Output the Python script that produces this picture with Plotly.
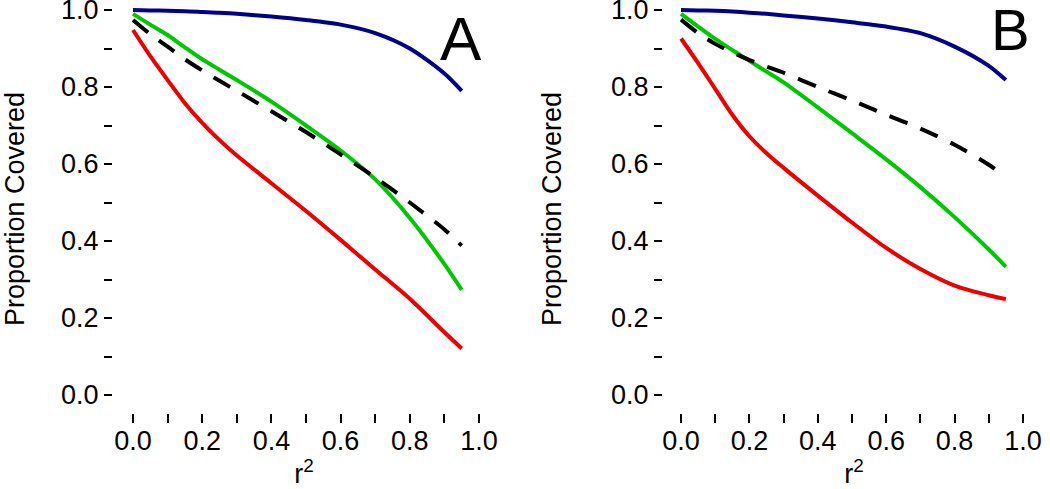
import plotly.graph_objects as go

# x values (r^2)
r2 = [0.0, 0.05, 0.1, 0.15, 0.2, 0.25, 0.3, 0.4, 0.5, 0.6, 0.7, 0.8, 0.9, 0.95]

# Panel A
a_blue  = [1.0, 0.999, 0.998, 0.997, 0.995, 0.993, 0.99, 0.983, 0.974, 0.962, 0.94, 0.90, 0.835, 0.79]
a_green = [0.99, 0.962, 0.935, 0.903, 0.872, 0.845, 0.818, 0.762, 0.70, 0.635, 0.56, 0.46, 0.34, 0.273]
a_black = [0.974, 0.937, 0.905, 0.872, 0.843, 0.816, 0.79, 0.737, 0.683, 0.625, 0.565, 0.50, 0.43, 0.388]
a_red   = [0.948, 0.88, 0.818, 0.758, 0.707, 0.662, 0.622, 0.55, 0.478, 0.403, 0.326, 0.25, 0.163, 0.121]

# Panel B
b_blue  = [1.0, 0.999, 0.998, 0.996, 0.993, 0.99, 0.986, 0.978, 0.968, 0.957, 0.94, 0.905, 0.855, 0.818]
b_green = [0.99, 0.957, 0.925, 0.896, 0.868, 0.84, 0.812, 0.747, 0.68, 0.612, 0.54, 0.462, 0.378, 0.333]
b_black = [0.975, 0.94, 0.912, 0.89, 0.87, 0.853, 0.837, 0.80, 0.765, 0.728, 0.692, 0.65, 0.598, 0.565]
b_red   = [0.926, 0.862, 0.795, 0.728, 0.672, 0.628, 0.59, 0.518, 0.448, 0.382, 0.327, 0.284, 0.259, 0.249]

tick_vals = [0.0, 0.1, 0.2, 0.3, 0.4, 0.5, 0.6, 0.7, 0.8, 0.9, 1.0]
tick_text = ["0.0", "", "0.2", "", "0.4", "", "0.6", "", "0.8", "", "1.0"]

colors = {"blue": "#00008B", "green": "#00C800", "black": "#000000", "red": "#EE0000"}
FONT = "Liberation Sans, Arial, sans-serif"
FS = 27

fig = go.Figure()

def add_panel(xa, ya, blue, green, black, red):
    for ys, c, dash in [(blue, "blue", "solid"), (green, "green", "solid"),
                        (black, "black", "19px,14px"), (red, "red", "solid")]:
        fig.add_trace(go.Scatter(x=r2, y=ys, mode="lines", xaxis=xa, yaxis=ya,
                                 line=dict(color=colors[c], width=4, dash=dash, shape="spline", smoothing=0.8),
                                 showlegend=False, hoverinfo="skip"))

add_panel("x", "y", a_blue, a_green, a_black, a_red)
add_panel("x2", "y2", b_blue, b_green, b_black, b_red)

W, H = 1050, 489
ydom = [1 - 413 / H, 1 - 5 / H]
yrange = [-(413 - 395) / 385, (395 - 5) / 385]

common_x = dict(tickmode="array", tickvals=tick_vals, ticktext=tick_text, ticks="outside",
                ticklen=9, tickwidth=2, tickcolor="black", showline=False, showgrid=False,
                zeroline=False, tickfont=dict(size=FS, color="black", family=FONT),
                ticklabeloverflow="allow", ticklabelstandoff=-5, automargin=False,
                title=dict(text="r<sup>2</sup>", font=dict(size=FS, color="black", family=FONT), standoff=10))
common_y = dict(tickmode="array", tickvals=tick_vals, ticktext=tick_text, ticks="outside",
                ticklen=8, tickwidth=2, tickcolor="black", showline=False, showgrid=False,
                zeroline=False, tickfont=dict(size=FS, color="black", family=FONT),
                ticklabeloverflow="allow", automargin=False,
                domain=ydom, range=yrange,
                title=dict(text="Proportion Covered", font=dict(size=FS, color="black", family=FONT), standoff=41))

fig.update_layout(
    width=W, height=H, margin=dict(l=0, r=0, t=0, b=0),
    plot_bgcolor="white", paper_bgcolor="white",
    xaxis=dict(domain=[113 / W, 495 / W], range=[-(133 - 113) / 346, (495 - 133) / 346], anchor="y", **common_x),
    yaxis=dict(anchor="x", **common_y),
    xaxis2=dict(domain=[663 / W, 1045 / W], range=[-(681 - 663) / 342, (1045 - 681) / 342], anchor="y2", **common_x),
    yaxis2=dict(anchor="x2", **common_y),
    annotations=[
        dict(text="A", x=461 / W, y=1 - 38 / H, xref="paper", yref="paper", showarrow=False,
             font=dict(size=62, color="black", family=FONT), xanchor="center", yanchor="middle"),
        dict(text="B", x=1010 / W, y=1 - 29 / H, xref="paper", yref="paper", showarrow=False,
             font=dict(size=58, color="black", family=FONT), xanchor="center", yanchor="middle"),
    ],
)

fig.write_html("out.html", config={"displayModeBar": False},
               post_script="document.body.style.margin='0';")
